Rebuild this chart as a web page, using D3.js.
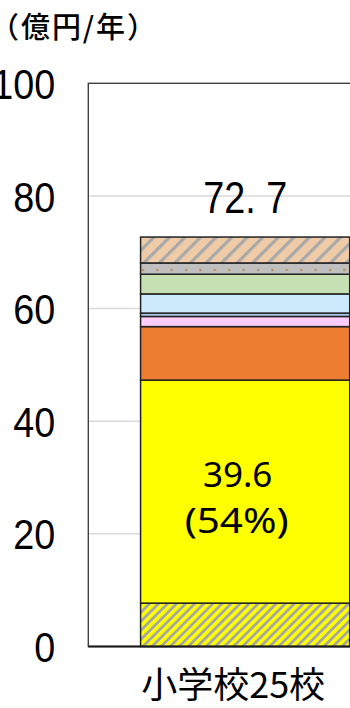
<!DOCTYPE html>
<html><head><meta charset="utf-8">
<script src="https://cdn.jsdelivr.net/npm/d3@7"></script>
<style>html,body{margin:0;padding:0;background:#fff;overflow:hidden}</style>
</head><body>
<svg id="c" width="350" height="708"></svg>
<script>
const categories = ["小学校25校"];
const segmentKeys = ["s1","s2","s3","s4","s5","s6","s7","s8","s9"];
const segmentValues = [7.7, 39.6, 9.5, 1.8, 0.6, 3.4, 3.5, 2.0, 4.6];
const segmentFills = ["url(#hatchYellow)","#ffff00","#ed7d31","#ffccfc","#a9cbe9","#cdeafd","#c6e0b4","url(#dotGray)","url(#hatchBeige)"];
const yTicks = [0,20,40,60,80,100];
const totalLabels = ["72. 7"];
const mainLabel = ["39.6","(54%)"];
const unitLabel = "（億円/年）";

(function(){
const svg = d3.select("#c");
const defs = svg.append("defs");
const pLeft = 88.3, pRight = 402, pTop = 83.3, pBottom = 646.5;

const y = d3.scaleLinear().domain([0,100]).range([pBottom, pTop]);
const x = d3.scaleBand().domain(categories).range([pLeft, pRight]).paddingInner(0.2).paddingOuter(0.2);

// patterns
const py = defs.append("pattern").attr("id","hatchYellow").attr("patternUnits","userSpaceOnUse")
  .attr("width",6.4).attr("height",6.4).attr("patternTransform","rotate(45)");
py.append("rect").attr("width",6.4).attr("height",6.4).attr("fill","#ffff00");
py.append("rect").attr("width",2.8).attr("height",6.4).attr("fill","#a6a6a6");

const pb = defs.append("pattern").attr("id","hatchBeige").attr("patternUnits","userSpaceOnUse")
  .attr("width",11).attr("height",11).attr("patternTransform","rotate(45)");
pb.append("rect").attr("width",11).attr("height",11).attr("fill","#efcba7");
pb.append("rect").attr("width",3.2).attr("height",11).attr("fill","#a9a9a9");

// stacked data
const stacked = [];
let acc = 0;
segmentValues.forEach((v,i)=>{ stacked.push({key:segmentKeys[i], y0:acc, y1:acc+v, fill:segmentFills[i]}); acc += v; });

const grayIdx = segmentKeys.indexOf("s8");
const pd = defs.append("pattern").attr("id","dotGray").attr("patternUnits","userSpaceOnUse")
  .attr("x", x(categories[0])).attr("y", y(stacked[grayIdx].y1))
  .attr("width",14.4).attr("height",40);
pd.append("rect").attr("width",14.4).attr("height",40).attr("fill","#bfbfbf");
pd.append("circle").attr("cx",2.3).attr("cy",7).attr("r",1.2).attr("fill","#b98a52");

// gridlines
svg.append("g").selectAll("line").data(yTicks.filter(t=>t>0 && t<100)).join("line")
  .attr("x1",pLeft).attr("x2",pRight).attr("y1",d=>y(d)).attr("y2",d=>y(d))
  .attr("stroke","#d9d9d9").attr("stroke-width",1.5);

// frame
svg.append("rect").attr("x",pLeft).attr("y",pTop).attr("width",pRight-pLeft).attr("height",pBottom-pTop)
  .attr("fill","none").attr("stroke","#404040").attr("stroke-width",1.4);

// bars
svg.append("g").selectAll("rect").data(stacked).join("rect")
  .attr("x", x(categories[0])).attr("width", x.bandwidth())
  .attr("y", d=>y(d.y1)).attr("height", d=>y(d.y0)-y(d.y1))
  .attr("fill", d=>d.fill).attr("stroke","#222").attr("stroke-width",1.5);

// baseline
svg.append("line").attr("x1",pLeft).attr("x2",pRight).attr("y1",y(0)).attr("y2",y(0))
  .attr("stroke","#1a1a1a").attr("stroke-width",2);

// y axis labels
const yAxis = d3.axisLeft(y).tickValues(yTicks).tickSize(0).tickPadding(33);
const ga = svg.append("g").attr("transform",`translate(${pLeft},0)`).call(yAxis);
ga.select(".domain").remove();
ga.selectAll("text").attr("font-family","'Liberation Sans', Arial, sans-serif").attr("font-size",43)
  .attr("fill","#000").attr("dy","0.35em")
  .attr("textLength", d => String(d).length * 21)
  .attr("lengthAdjust","spacingAndGlyphs");

// unit label
svg.append("text").attr("x",-10).attr("y",38).text(unitLabel)
  .attr("font-family","'Noto Sans CJK JP', sans-serif").attr("font-size",29).attr("font-weight",500)
  .attr("textLength",166).attr("lengthAdjust","spacing").attr("fill","#000");

// total label
const cx = x(categories[0]) + x.bandwidth()/2;
svg.append("text").attr("x",cx).attr("y",213).attr("text-anchor","middle")
  .attr("font-family","'Liberation Sans', Arial, sans-serif").attr("font-size",45)
  .attr("textLength",84).attr("lengthAdjust","spacingAndGlyphs").text(totalLabels[0]);

// main segment label
svg.append("text").attr("x",cx-7.5).attr("y",486.7).attr("text-anchor","middle")
  .attr("font-family","'Noto Sans', sans-serif").attr("font-size",35).text(mainLabel[0]);
svg.append("text").attr("x",cx-8.5).attr("y",533).attr("text-anchor","middle")
  .attr("font-family","'Noto Sans', sans-serif").attr("font-size",35)
  .attr("textLength",104).attr("lengthAdjust","spacingAndGlyphs").text(mainLabel[1]);

// category label
svg.append("text").attr("x",cx-12).attr("y",698).attr("text-anchor","middle")
  .attr("font-family","'Noto Sans CJK JP', sans-serif").attr("font-size",36).text(categories[0]);
})();
</script>
</body></html>
